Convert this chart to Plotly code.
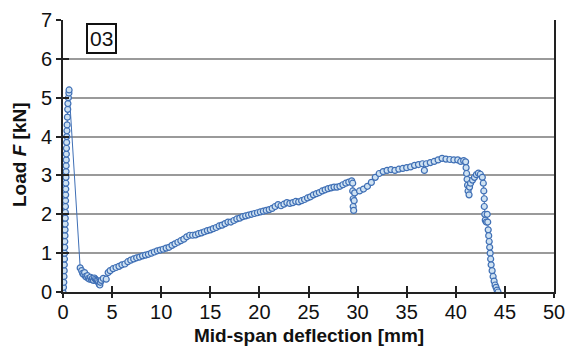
import plotly.graph_objects as go

# Mid-span deflection [mm]
deflection = [
    0.0, 0.05, 0.08, 0.1, 0.12, 0.13, 0.15, 0.16, 0.17, 0.18, 0.2, 0.21, 0.22, 0.23, 0.24, 0.25,
    0.26, 0.27, 0.28, 0.29, 0.3, 0.31, 0.32, 0.33, 0.34, 0.35, 0.37, 0.38, 0.4, 0.42, 0.45, 0.48,
    0.5, 0.55, 0.6, 0.62,
    1.75, 1.9, 2.0, 2.1, 2.2, 2.3, 2.4, 2.5, 2.6, 2.7, 2.8, 2.9, 3.0, 3.1, 3.2, 3.3, 3.4, 3.5, 3.6,
    3.7, 3.75, 3.8, 3.9, 4.1, 4.4, 4.6, 4.8, 5.1, 5.4, 5.7, 6.0, 6.3, 6.6, 6.9, 7.2, 7.5, 7.8, 8.1,
    8.4, 8.7, 9.0, 9.3, 9.6, 9.9, 10.2, 10.5, 10.8, 11.1, 11.4, 11.7, 12.0, 12.3, 12.6, 12.9, 13.2,
    13.5, 13.8, 14.1, 14.4, 14.7, 15.0, 15.3, 15.6, 15.9, 16.2, 16.5, 16.8, 17.1, 17.4, 17.7, 18.0,
    18.3, 18.6, 18.9, 19.2, 19.5, 19.8, 20.1, 20.4, 20.7, 21.0, 21.3, 21.6, 21.9, 22.2, 22.5, 22.8,
    23.1, 23.4, 23.7, 24.0, 24.3, 24.6, 24.9, 25.2, 25.5, 25.8, 26.1, 26.4, 26.7, 27.0, 27.3, 27.6,
    27.9, 28.2, 28.5, 28.8, 29.1, 29.4, 29.5, 29.5, 29.55, 29.55, 29.6, 29.65, 29.7, 30.2, 30.6,
    31.0, 31.4, 31.8, 32.2, 32.6, 33.0, 33.4, 33.8, 34.2, 34.6, 35.0, 35.4, 35.8, 36.2, 36.6, 36.8,
    37.0, 37.4, 37.8, 38.2, 38.6, 39.0, 39.4, 39.8, 40.2, 40.5, 40.8, 41.0, 41.05, 41.1, 41.15,
    41.2, 41.25, 41.35, 41.4, 41.5, 41.7, 41.9, 42.1, 42.3, 42.5, 42.7, 42.8, 42.85, 42.9, 42.9,
    42.95, 43.0, 43.1, 43.2, 43.25, 43.3, 43.35, 43.4, 43.45, 43.5, 43.55, 43.6, 43.7, 43.8, 43.9,
    44.0, 44.1, 44.2, 44.3,
]
# Load F [kN]
load = [
    0.0, 0.12, 0.25, 0.4, 0.55, 0.7, 0.85, 1.0, 1.15, 1.3, 1.45, 1.6, 1.75, 1.9, 2.05, 2.2,
    2.35, 2.5, 2.65, 2.8, 2.95, 3.1, 3.25, 3.4, 3.55, 3.7, 3.85, 4.0, 4.15, 4.3, 4.5, 4.7,
    4.85, 5.0, 5.12, 5.2,
    0.62, 0.55, 0.48, 0.45, 0.5, 0.4, 0.38, 0.42, 0.35, 0.33, 0.38, 0.32, 0.35, 0.3, 0.36, 0.33, 0.3, 0.28, 0.25,
    0.2, 0.18, 0.25, 0.3, 0.35, 0.33, 0.5, 0.55, 0.6, 0.63, 0.66, 0.7, 0.72, 0.78, 0.82, 0.85, 0.88, 0.9, 0.93,
    0.95, 0.97, 1.0, 1.03, 1.06, 1.08, 1.1, 1.13, 1.15, 1.2, 1.24, 1.28, 1.32, 1.36, 1.42, 1.46, 1.46,
    1.47, 1.5, 1.52, 1.55, 1.58, 1.6, 1.63, 1.66, 1.7, 1.72, 1.76, 1.8, 1.8, 1.84, 1.88, 1.9,
    1.94, 1.96, 1.98, 2.0, 2.02, 2.04, 2.06, 2.08, 2.1, 2.12, 2.15, 2.2, 2.25, 2.22, 2.26, 2.3,
    2.28, 2.3, 2.33, 2.32, 2.35, 2.38, 2.42, 2.45, 2.5, 2.53, 2.56, 2.6, 2.63, 2.66, 2.68, 2.7,
    2.7, 2.72, 2.76, 2.8, 2.83, 2.86, 2.8, 2.6, 2.4, 2.2, 2.1, 2.35, 2.55, 2.6, 2.65,
    2.72, 2.82, 2.95, 3.05, 3.1, 3.13, 3.15, 3.13, 3.16, 3.18, 3.2, 3.22, 3.26, 3.28, 3.3, 3.13,
    3.3, 3.33, 3.36, 3.4, 3.44, 3.42, 3.41, 3.4, 3.4, 3.36, 3.38, 3.35, 3.2, 3.05, 2.9,
    2.75, 2.6, 2.5, 2.7, 2.8, 2.88, 2.95, 3.02, 3.06, 3.03, 2.95, 2.8, 2.6, 2.4, 2.2,
    2.0, 1.85, 1.8, 2.0, 1.8, 1.6, 1.45, 1.3, 1.15, 1.0, 0.85, 0.7, 0.55, 0.4, 0.28,
    0.18, 0.12, 0.05, 0.0,
]

x_ticks = [0, 5, 10, 15, 20, 25, 30, 35, 40, 45, 50]
y_ticks = [0, 1, 2, 3, 4, 5, 6, 7]
specimen_label = "03"
x_title = "<b>Mid-span deflection [mm]</b>"
y_title = "<b>Load <i>F</i> [kN]</b>"

FONT = "Liberation Sans, Arial, Helvetica, sans-serif"
BLUE = "#3f6fb5"

fig = go.Figure()
fig.add_trace(go.Scatter(
    x=deflection, y=load, mode="lines+markers",
    line=dict(color=BLUE, width=1),
    marker=dict(symbol="circle", size=6, color="#cfe2f2", line=dict(color=BLUE, width=1.2)),
    showlegend=False, hoverinfo="x+y",
))
# invisible trace on overlay axes to get crossing ticks
fig.add_trace(go.Scatter(x=[0], y=[0], xaxis="x2", yaxis="y2", mode="markers",
                         marker=dict(opacity=0), showlegend=False, hoverinfo="skip"))

fig.update_layout(
    template="none",
    width=569, height=348,
    margin=dict(l=63, r=15, t=20, b=56, autoexpand=False),
    paper_bgcolor="white", plot_bgcolor="white",
    font=dict(family=FONT, color="#111111"),
    xaxis=dict(
        range=[0, 50], tickvals=x_ticks, ticktext=[str(v) for v in x_ticks],
        ticks="outside", ticklen=4, tickwidth=1.5, tickcolor="#222",
        showline=True, linecolor="#222", linewidth=2, showgrid=False, zeroline=False,
        tickfont=dict(size=20, family=FONT), automargin=False, ticklabelstandoff=-3,
    ),
    yaxis=dict(
        range=[0, 7], tickvals=y_ticks, ticktext=[str(v) for v in y_ticks],
        ticks="outside", ticklen=5, tickwidth=1.5, tickcolor="#222",
        showline=True, linecolor="#222", linewidth=2, mirror=True,
        showgrid=True, gridcolor="#9a9a9a", gridwidth=1.5, zeroline=False,
        tickfont=dict(size=20, family=FONT), automargin=False,
    ),
    xaxis2=dict(range=[0, 50], tickvals=x_ticks, overlaying="x", side="bottom", anchor="y",
                ticks="inside", ticklen=6, tickwidth=1.5, tickcolor="#222",
                showticklabels=False, showgrid=False, zeroline=False, showline=False),
    yaxis2=dict(range=[0, 7], tickvals=y_ticks, overlaying="y", side="left", anchor="x",
                ticks="inside", ticklen=6, tickwidth=1.5, tickcolor="#222",
                showticklabels=False, showgrid=False, zeroline=False, showline=False),
    annotations=[
        dict(x=3.93, y=6.52, xref="x", yref="y", text=specimen_label, showarrow=False,
             font=dict(size=21, family=FONT, color="#111"),
             bordercolor="#111", borderwidth=2, borderpad=2, bgcolor="white"),
        dict(x=0.5, y=(292 - 335) / 272, xref="paper", yref="paper", text=x_title,
             showarrow=False, xanchor="center", yanchor="middle",
             font=dict(size=19, family=FONT, color="#111")),
        dict(x=(19 - 63) / 491, y=(292 - 155) / 272, xref="paper", yref="paper", text=y_title,
             showarrow=False, xanchor="center", yanchor="middle", textangle=-90,
             font=dict(size=19, family=FONT, color="#111")),
    ],
)

fig.write_html("out.html", config={"displayModeBar": False},
               post_script="document.body.style.margin='0';")
